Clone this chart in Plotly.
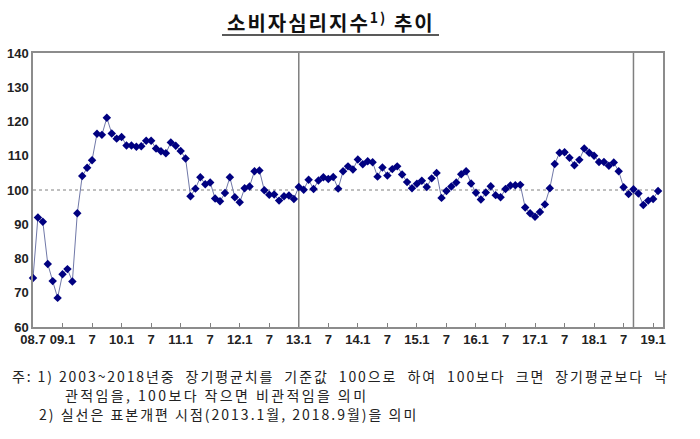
import plotly.graph_objects as go

# 소비자심리지수 (CCSI), 월별 2008.7 ~ 2019.2
ccsi_2008 = [74.3, 92.0, 90.7, 78.4, 73.4, 68.5]
ccsi_2009 = [75.4, 76.9, 73.3, 93.2, 104.1, 106.5, 108.7, 116.4, 116.1, 121.1, 116.5, 115.0]
ccsi_2010 = [115.5, 113.0, 113.0, 112.6, 112.8, 114.4, 114.4, 112.1, 111.3, 110.7, 113.9, 112.9]
ccsi_2011 = [111.4, 109.2, 98.2, 100.4, 103.7, 101.7, 102.2, 97.5, 96.7, 99.1, 103.7, 97.9]
ccsi_2012 = [96.4, 100.5, 101.0, 105.5, 105.7, 99.9, 98.6, 98.7, 96.9, 98.2, 98.4, 97.4]
ccsi_2013 = [100.9, 100.1, 103.0, 100.3, 102.8, 103.7, 103.2, 103.8, 100.4, 105.5, 106.9, 106.0]
ccsi_2014 = [108.9, 107.5, 108.4, 108.1, 103.9, 106.6, 104.2, 106.1, 106.9, 104.5, 102.3, 100.5]
ccsi_2015 = [101.8, 102.7, 100.9, 103.4, 105.0, 97.7, 99.7, 101.0, 102.2, 104.6, 105.5, 101.9]
ccsi_2016 = [99.2, 97.2, 99.3, 101.1, 98.5, 97.9, 100.3, 101.3, 101.4, 101.5, 94.9, 93.2]
ccsi_2017 = [92.2, 93.6, 95.8, 100.5, 107.6, 110.9, 111.0, 109.4, 107.2, 108.8, 112.1, 110.9]
ccsi_2018 = [110.0, 108.2, 108.2, 107.1, 108.0, 105.5, 100.8, 98.8, 100.2, 99.0, 95.6, 96.9]
ccsi_2019 = [97.4, 99.7]

tick_text = ["08.7", "09.1", "7", "10.1", "7", "11.1", "7", "12.1", "7", "13.1", "7",
             "14.1", "7", "15.1", "7", "16.1", "7", "17.1", "7", "18.1", "7", "19.1"]
y_ticks = [60, 70, 80, 90, 100, 110, 120, 130, 140]
# 표본개편 시점 (월 순번, 08.7 = 0)
sample_breaks = [54, 122]

ccsi = (ccsi_2008 + ccsi_2009 + ccsi_2010 + ccsi_2011 + ccsi_2012 + ccsi_2013
        + ccsi_2014 + ccsi_2015 + ccsi_2016 + ccsi_2017 + ccsi_2018 + ccsi_2019)
idx = list(range(len(ccsi)))
tick_vals = [i * 6 for i in range(len(tick_text))]

fig = go.Figure()
fig.add_trace(go.Scatter(
    x=idx, y=ccsi, mode="lines+markers",
    line=dict(color="#7078a8", width=1),
    marker=dict(symbol="diamond", size=6.5, color="#000080"),
    showlegend=False, cliponaxis=False,
))

shapes = []
# 기준값 100
shapes.append(dict(type="line", xref="x", yref="y", x0=0, x1=128, y0=100, y1=100,
                   line=dict(color="#808080", width=1, dash="dot"), layer="below"))
for b in sample_breaks:
    shapes.append(dict(type="line", xref="x", yref="y", x0=b, x1=b, y0=60, y1=140,
                       line=dict(color="#7f7f7f", width=1.5), layer="below"))
# title underline
shapes.append(dict(type="line", xref="paper", yref="paper",
                   x0=(222 - 33) / 630, x1=(439 - 33) / 630,
                   y0=(327 - 35) / 274, y1=(327 - 35) / 274,
                   line=dict(color="#222222", width=1.5)))

axis_font = dict(family="Liberation Sans, Arial", size=13, color="#222222", weight="bold")
foot_font = dict(family="Noto Sans CJK KR", size=14, color="#222222")


def px_x(x):
    return (x - 33) / 630


def px_y(y):
    return (327 - y) / 274


def spaced(txt, ls):
    return '<span style="letter-spacing:%spx">%s</span>' % (ls, txt)


annotations = [
    dict(text=spaced("<b>소비자심리지수<sup>1)</sup> 추이</b>", 2), xref="paper", yref="paper",
         x=px_x(331), y=px_y(22), xanchor="center", yanchor="middle",
         showarrow=False, font=dict(family="Noto Sans CJK KR", size=20, color="#111111")),
    dict(text=spaced("주: 1) 2003~2018년중&nbsp; 장기평균치를&nbsp; 기준값&nbsp; 100으로&nbsp; 하여&nbsp; "
                     "100보다&nbsp; 크면&nbsp; 장기평균보다&nbsp; 낙", 1.9),
         xref="paper", yref="paper", x=px_x(10), y=px_y(376),
         xanchor="left", yanchor="middle", showarrow=False, font=foot_font),
    dict(text=spaced("관적임을, 100보다 작으면 비관적임을 의미", 2.4),
         xref="paper", yref="paper", x=px_x(63), y=px_y(395),
         xanchor="left", yanchor="middle", showarrow=False, font=foot_font),
    dict(text=spaced("2) 실선은 표본개편 시점(2013.1월, 2018.9월)을 의미", 2.0),
         xref="paper", yref="paper", x=px_x(37), y=px_y(414),
         xanchor="left", yanchor="middle", showarrow=False, font=foot_font),
]

fig.update_layout(
    width=700, height=439,
    margin=dict(l=33, r=37, t=53, b=112),
    paper_bgcolor="white", plot_bgcolor="white",
    shapes=shapes, annotations=annotations,
    xaxis=dict(range=[0, 128], tickvals=tick_vals, ticktext=tick_text,
               ticks="inside", ticklen=4, tickcolor="#808080",
               showgrid=False, zeroline=False, showline=True, linecolor="#8c8c8c",
               linewidth=1.5, mirror=True, tickfont=axis_font, automargin=False),
    yaxis=dict(range=[60, 140], tickvals=y_ticks, ticks="", showgrid=False,
               zeroline=False, showline=True, linecolor="#8c8c8c", linewidth=1.5,
               mirror=True, tickfont=axis_font, automargin=False),
)

fig.write_html("out.html", config={"displayModeBar": False},
               post_script="document.body.style.margin='0';")
